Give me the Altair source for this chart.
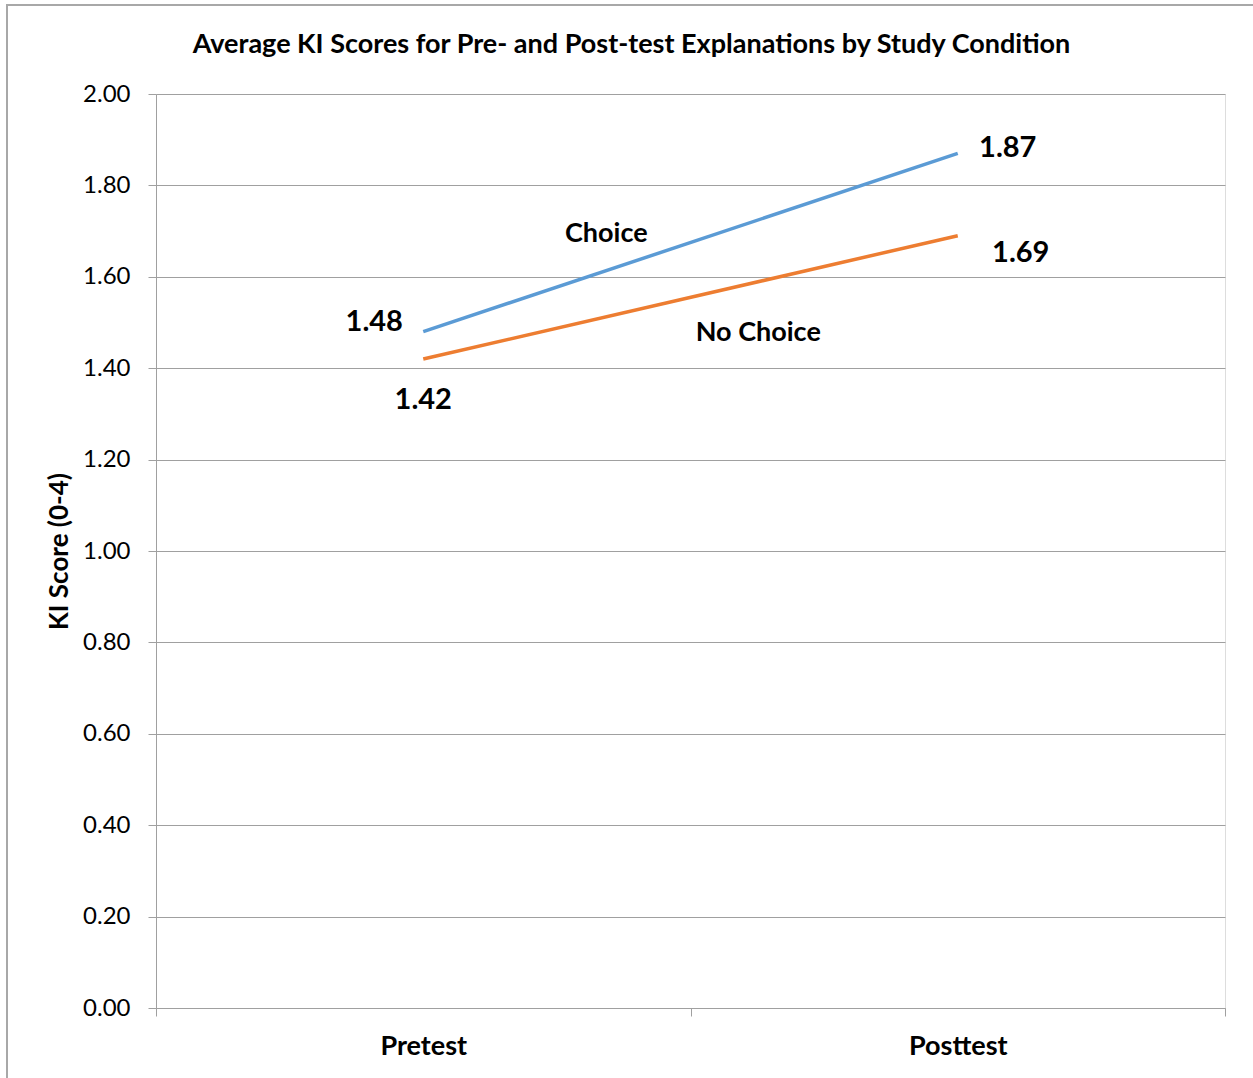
import altair as alt
import pandas as pd

# Study data: average KI scores (0-4 scale) at each test phase
phases = ["Pretest", "Posttest"]
conditions = ["Choice", "No Choice"]
choice_scores = [1.48, 1.87]
no_choice_scores = [1.42, 1.69]
y_ticks = [0.0, 0.2, 0.4, 0.6, 0.8, 1.0, 1.2, 1.4, 1.6, 1.8, 2.0]

rows = []
for cond, scores in zip(conditions, [choice_scores, no_choice_scores]):
    for phase, s in zip(phases, scores):
        rows.append({"phase": phase, "condition": cond, "score": s})
df = pd.DataFrame(rows)

W, H = 1069, 914
FONT = "Lato"
GRID = "#a0a0a0"

x_enc = alt.X(
    "phase:N",
    sort=phases,
    scale=alt.Scale(paddingInner=0, paddingOuter=0),
    axis=alt.Axis(
        title=None,
        tickBand="extent",
        labelAngle=0,
        labelFont=FONT,
        labelFontWeight="bold",
        labelFontSize=27,
        labelColor="black",
        labelPadding=17,
        tickSize=8,
        tickColor=GRID,
        domainColor=GRID,
        grid=False,
    ),
)
y_enc = alt.Y(
    "score:Q",
    scale=alt.Scale(domain=[0, 2], nice=False, zero=True),
    axis=alt.Axis(
        title="KI Score (0-4)",
        titleFont=FONT,
        titleFontSize=26,
        titleFontWeight="bold",
        titleColor="black",
        titlePadding=10,
        values=y_ticks,
        format=".2f",
        labelFont=FONT,
        labelFontSize=24,
        labelColor="black",
        labelPadding=18,
        tickSize=8,
        tickColor=GRID,
        domainColor=GRID,
        gridColor=GRID,
        gridWidth=1,
    ),
)
color_enc = alt.Color(
    "condition:N",
    scale=alt.Scale(domain=conditions, range=["#5B9BD5", "#ED7D31"]),
    legend=None,
)

base = alt.Chart(df)

lines = base.mark_line(strokeWidth=3.5).encode(x=x_enc, y=y_enc, color=color_enc, detail="condition:N")

def value_label(cond, phase, dx, dy):
    return (
        base.transform_filter(
            (alt.datum.condition == cond) & (alt.datum.phase == phase)
        )
        .mark_text(font=FONT, fontSize=29, fontWeight="bold", color="black", dx=dx, dy=dy)
        .encode(x=alt.X("phase:N", sort=phases), y="score:Q", text=alt.Text("score:Q", format=".2f"))
    )

def series_label(cond, dx, dy):
    return (
        base.transform_filter(
            (alt.datum.condition == cond) & (alt.datum.phase == phases[0])
        )
        .mark_text(font=FONT, fontSize=27, fontWeight="bold", color="black", dx=dx, dy=dy)
        .encode(x=alt.X("phase:N", sort=phases), y="score:Q", text="condition:N")
    )

labels = [
    value_label("Choice", "Pretest", -49, -10),
    value_label("No Choice", "Pretest", 0, 41),
    value_label("Choice", "Posttest", 50, -5),
    value_label("No Choice", "Posttest", 63, 17),
    series_label("Choice", 183, -98),
    series_label("No Choice", 335, -26),
]

# Outer chart frame
frame = alt.Chart(pd.DataFrame({"f": [0]})).mark_rect(
    fill=None, stroke="#a8a8a8", strokeWidth=2
).encode(
    x=alt.value(-149), y=alt.value(-89), x2=alt.value(W + 60), y2=alt.value(H + 100)
)

chart = (
    alt.layer(frame, lines, *labels)
    .properties(
        width=W,
        height=H,
        autosize=alt.AutoSizeParams(type="none"),
        padding={"left": 156, "top": 94, "right": 28, "bottom": 70},
        title=alt.TitleParams(
            "Average KI Scores for Pre- and Post-test Explanations by Study Condition",
            font=FONT,
            fontSize=27,
            fontWeight="bold",
            color="black",
            anchor="middle",
            baseline="alphabetic",
            dx=-59,
            offset=-76,
        ),
    )
    .configure_view(stroke=None)
    .configure(background="white")
)

chart.save("out.html", embed_options={"renderer": "svg", "actions": False})
